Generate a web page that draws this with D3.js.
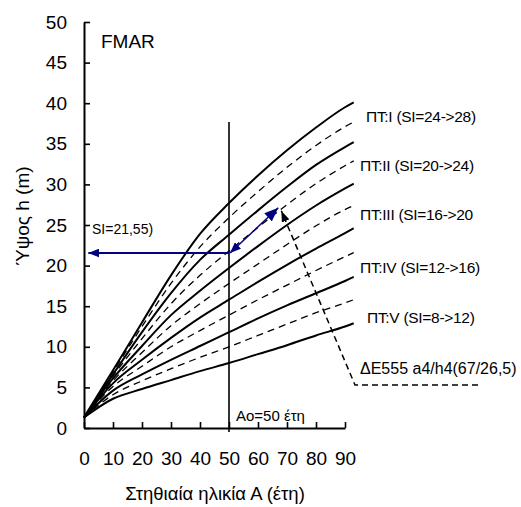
<!DOCTYPE html>
<html>
<head>
<meta charset="utf-8">
<script src="https://cdn.jsdelivr.net/npm/d3@7"></script>
<style>
  body { margin: 0; background: #fff; }
  text { font-family: Arial, "Liberation Sans", sans-serif; fill: #000; }
</style>
</head>
<body>
<div class="canvas"></div>
<script>
// ages (years) and heights (m)
const ages = [0, 10, 20, 30, 40, 50, 60, 70, 80, 90, 93];

// class boundaries (solid)
const s28 = [1.3, 7.1, 13.0, 18.8, 23.9, 27.7, 31.1, 34.2, 37.0, 39.5, 40.1];
const s24 = [1.3, 6.6, 11.8, 16.6, 20.7, 23.8, 26.8, 29.7, 32.4, 34.6, 35.2];
const s20 = [1.3, 6.1, 10.1, 13.9, 16.9, 19.7, 22.4, 25.0, 27.4, 29.5, 30.1];
const s16 = [1.3, 5.5, 8.4, 11.1, 13.6, 15.8, 18.0, 20.1, 22.1, 24.0, 24.6];
const s12 = [1.3, 4.6, 6.6, 8.4, 10.1, 11.8, 13.5, 15.1, 16.6, 18.1, 18.6];
const s8 = [1.3, 3.6, 4.8, 5.9, 7.0, 8.0, 9.1, 10.2, 11.4, 12.5, 12.9];

// class centres (dashed)
const d26 = [1.3, 6.9, 12.5, 17.8, 22.3, 25.9, 29.1, 32.1, 34.8, 37.1, 37.7];
const d22 = [1.3, 6.4, 11.0, 15.3, 18.8, 21.8, 24.7, 27.5, 30.1, 32.3, 32.9];
const d18 = [1.3, 5.8, 9.3, 12.6, 15.3, 17.8, 20.2, 22.6, 24.9, 26.9, 27.4];
const d14 = [1.3, 5.1, 7.6, 10.0, 12.0, 13.9, 15.8, 17.6, 19.4, 21.1, 21.6];
const d10 = [1.3, 4.1, 5.8, 7.3, 8.7, 10.0, 11.4, 12.8, 14.2, 15.4, 15.8];

const xTicks = [0, 10, 20, 30, 40, 50, 60, 70, 80, 90];
const yTicks = [0, 5, 10, 15, 20, 25, 30, 35, 40, 45, 50];

const classLabels = [
  "ΠΤ:I (SI=24->28)",
  "ΠΤ:II (SI=20->24)",
  "ΠΤ:III (SI=16->20",
  "ΠΤ:IV (SI=12->16)",
  "ΠΤ:V (SI=8->12)"
];

// reference age, estimated SI and the a4/h4 point
const refAge = 50;
const siValue = 21.55;
const pointA4 = [67, 26.5];

const dims = { width: 521, height: 507 };

const svg = d3
  .select(".canvas")
  .append("svg")
  .attr("width", dims.width)
  .attr("height", dims.height);

svg.append("rect").attr("width", dims.width).attr("height", dims.height).attr("fill", "#fff");

const x = d3.scaleLinear().domain([0, 90]).range([84, 345]);
const y = d3.scaleLinear().domain([0, 50]).range([428, 22]);

// markers
const defs = svg.append("defs");
const addMarker = (id, color, len, wid, orient) => {
  defs
    .append("marker")
    .attr("id", id)
    .attr("markerUnits", "userSpaceOnUse")
    .attr("viewBox", `0 ${-wid / 2} ${len} ${wid}`)
    .attr("refX", len)
    .attr("refY", 0)
    .attr("markerWidth", len)
    .attr("markerHeight", wid)
    .attr("orient", orient)
    .append("path")
    .attr("d", `M0,${-wid / 2}L${len},0L0,${wid / 2}Z`)
    .attr("fill", color);
};
addMarker("blueHead", "#000080", 11, 9, "auto");
addMarker("blueStart", "#000080", 11, 9, "auto-start-reverse");
addMarker("blueBig", "#000080", 14, 11, "auto");
addMarker("blackHead", "#000", 11, 8, "auto");

// curves
const line = d3
  .line()
  .x((d, i) => x(ages[i]))
  .y((d) => y(d))
  .curve(d3.curveMonotoneX);

const curves = svg.append("g");
[s28, s24, s20, s16, s12, s8].forEach((s) => {
  curves
    .append("path")
    .attr("d", line(s))
    .attr("fill", "none")
    .attr("stroke", "#000")
    .attr("stroke-width", 2);
});
[d26, d22, d18, d14, d10].forEach((s) => {
  curves
    .append("path")
    .attr("d", line(s))
    .attr("fill", "none")
    .attr("stroke", "#000")
    .attr("stroke-width", 1.3)
    .attr("stroke-dasharray", "7,5");
});

// axes
const yAxis = svg
  .append("g")
  .attr("transform", `translate(${x(0)},0)`)
  .call(d3.axisLeft(y).tickValues(yTicks).tickSizeInner(-6).tickSizeOuter(0).tickPadding(17));

const xAxis = svg
  .append("g")
  .attr("transform", `translate(0,${y(0)})`)
  .call(d3.axisBottom(x).tickValues(xTicks).tickSizeInner(-6).tickSizeOuter(0).tickPadding(24));

[xAxis, yAxis].forEach((g) => {
  g.select(".domain").attr("stroke", "#000").attr("stroke-width", 2);
  g.selectAll(".tick line").attr("stroke", "#000").attr("stroke-width", 1.6);
  g.selectAll("text")
    .style("font-size", "19px")
    .style("font-family", "Arial, 'Liberation Sans', sans-serif");
});

// vertical line at reference age
svg
  .append("line")
  .attr("x1", x(refAge))
  .attr("x2", x(refAge))
  .attr("y1", y(37.7))
  .attr("y2", y(0) + 4)
  .attr("stroke", "#000")
  .attr("stroke-width", 1.6);

svg
  .append("text")
  .attr("x", x(refAge) + 7)
  .attr("y", 421)
  .style("font-size", "15px")
  .text("Ao=50 έτη");

// blue arrows
svg
  .append("line")
  .attr("x1", x(refAge))
  .attr("y1", y(siValue))
  .attr("x2", x(1.5))
  .attr("y2", y(siValue))
  .attr("stroke", "#000080")
  .attr("stroke-width", 2)
  .attr("marker-end", "url(#blueHead)");

svg
  .append("line")
  .attr("x1", x(refAge) + 1)
  .attr("y1", y(siValue))
  .attr("x2", x(pointA4[0]))
  .attr("y2", y(pointA4[1]) - 5)
  .attr("stroke", "#000080")
  .attr("stroke-width", 1.5)
  .attr("marker-start", "url(#blueStart)")
  .attr("marker-end", "url(#blueBig)");

svg
  .append("text")
  .attr("x", 92)
  .attr("y", 234)
  .style("font-size", "14px")
  .text("SI=21,55)");

// dashed leader to the a4/h4 label
const leader = [
  [478, 385],
  [355, 385],
  [x(pointA4[0]) + 3, y(pointA4[1]) - 2]
];
svg
  .append("path")
  .attr("d", d3.line()(leader))
  .attr("fill", "none")
  .attr("stroke", "#000")
  .attr("stroke-width", 1.5)
  .attr("stroke-dasharray", "6,4")
  .attr("marker-end", "url(#blackHead)");

svg
  .append("text")
  .attr("x", 360)
  .attr("y", 374)
  .style("font-size", "16px")
  .text("ΔΕ555 a4/h4(67/26,5)");

// class labels
const labelPos = [
  [366, 122],
  [360, 171],
  [360, 220],
  [360, 273],
  [367, 323]
];
svg
  .selectAll(".cls")
  .data(classLabels)
  .enter()
  .append("text")
  .attr("class", "cls")
  .attr("x", (d, i) => labelPos[i][0])
  .attr("y", (d, i) => labelPos[i][1])
  .style("font-size", "15.5px")
  .style("letter-spacing", "-0.3px")
  .text((d) => d);

svg
  .append("text")
  .attr("x", 101)
  .attr("y", 48)
  .style("font-size", "19px")
  .text("FMAR");

// axis titles
svg
  .append("text")
  .attr("x", 215)
  .attr("y", 500)
  .attr("text-anchor", "middle")
  .style("font-size", "18.5px")
  .text("Στηθιαία ηλικία Α (έτη)");

svg
  .append("text")
  .attr("transform", `translate(29,216) rotate(-90)`)
  .attr("text-anchor", "middle")
  .style("font-size", "19px")
  .text("Ύψος h (m)");
</script>
</body>
</html>
